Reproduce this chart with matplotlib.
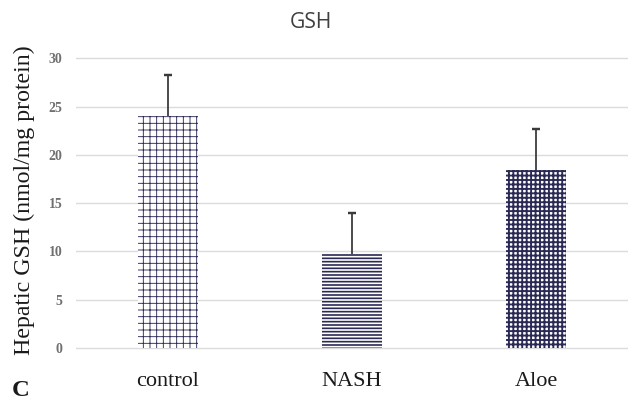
import matplotlib
matplotlib.use("Agg")
import matplotlib.pyplot as plt

categories = ["control", "NASH", "Aloe"]
means = [24.0, 9.7, 18.4]
errors = [4.25, 4.3, 4.3]
hatches = ["++", "----", "+++"]
hatch_lw = [0.8, 1.5, 1.7]
yticks = [0, 5, 10, 15, 20, 25, 30]

DPI = 80
fig = plt.figure(figsize=(628 / DPI, 402 / DPI), dpi=DPI)
ax = fig.add_axes([0.121, 0.1224, 0.879, 0.7445])

hatch_color = "#2b2a55"
for i, (cat, m, e, h, lw) in enumerate(zip(categories, means, errors, hatches, hatch_lw)):
    with plt.rc_context({"hatch.linewidth": lw}):
        bars = ax.bar([i], [m], width=0.33, color="white", edgecolor=hatch_color,
                      linewidth=0, hatch=h, zorder=2)
    for p in bars.patches:
        if hasattr(p, "set_hatch_linewidth"):
            p.set_hatch_linewidth(lw)
    eb = ax.errorbar([i], [m], yerr=[[0], [e]], fmt="none", ecolor="#3a3a3a",
                     elinewidth=1.6, capsize=4, capthick=2.2, zorder=3)
    caps = eb.lines[1]
    if len(caps) == 2:
        caps[0].set_visible(False)

ax.set_xlim(-0.5, 2.5)
ax.set_ylim(-0.5, 30.5)
ax.set_yticks(yticks)
ax.set_yticklabels([str(t) for t in yticks], fontfamily="Liberation Serif",
                   fontweight="bold", fontsize=12.5, color="#707070")
ax.set_xticks(range(len(categories)))
ax.set_xticklabels(categories, fontfamily="Liberation Serif", fontsize=20, color="#1a1a1a")
ax.tick_params(axis="y", length=0, pad=12)
ax.tick_params(axis="x", length=0, pad=17)
ax.grid(axis="y", color="#dcdcdc", linewidth=1.3, zorder=0)
ax.set_axisbelow(True)
for s in ax.spines.values():
    s.set_visible(False)

fig.text(24 / 628, 1 - 200 / 402, "Hepatic GSH (nmol/mg protein)", rotation=90,
         ha="center", va="center", fontfamily="Liberation Serif", fontsize=21.5,
         color="#1a1a1a")
fig.text(311 / 628, 1 - 23 / 402, "GSH", ha="center", va="center",
         fontfamily="Open Sans", fontsize=19, color="#404040")
fig.text(12 / 628, 1 - 390 / 402, "C", ha="left", va="center",
         fontfamily="Liberation Serif", fontweight="bold", fontsize=22, color="#1a1a1a")

fig.savefig("out.png", dpi=DPI)
